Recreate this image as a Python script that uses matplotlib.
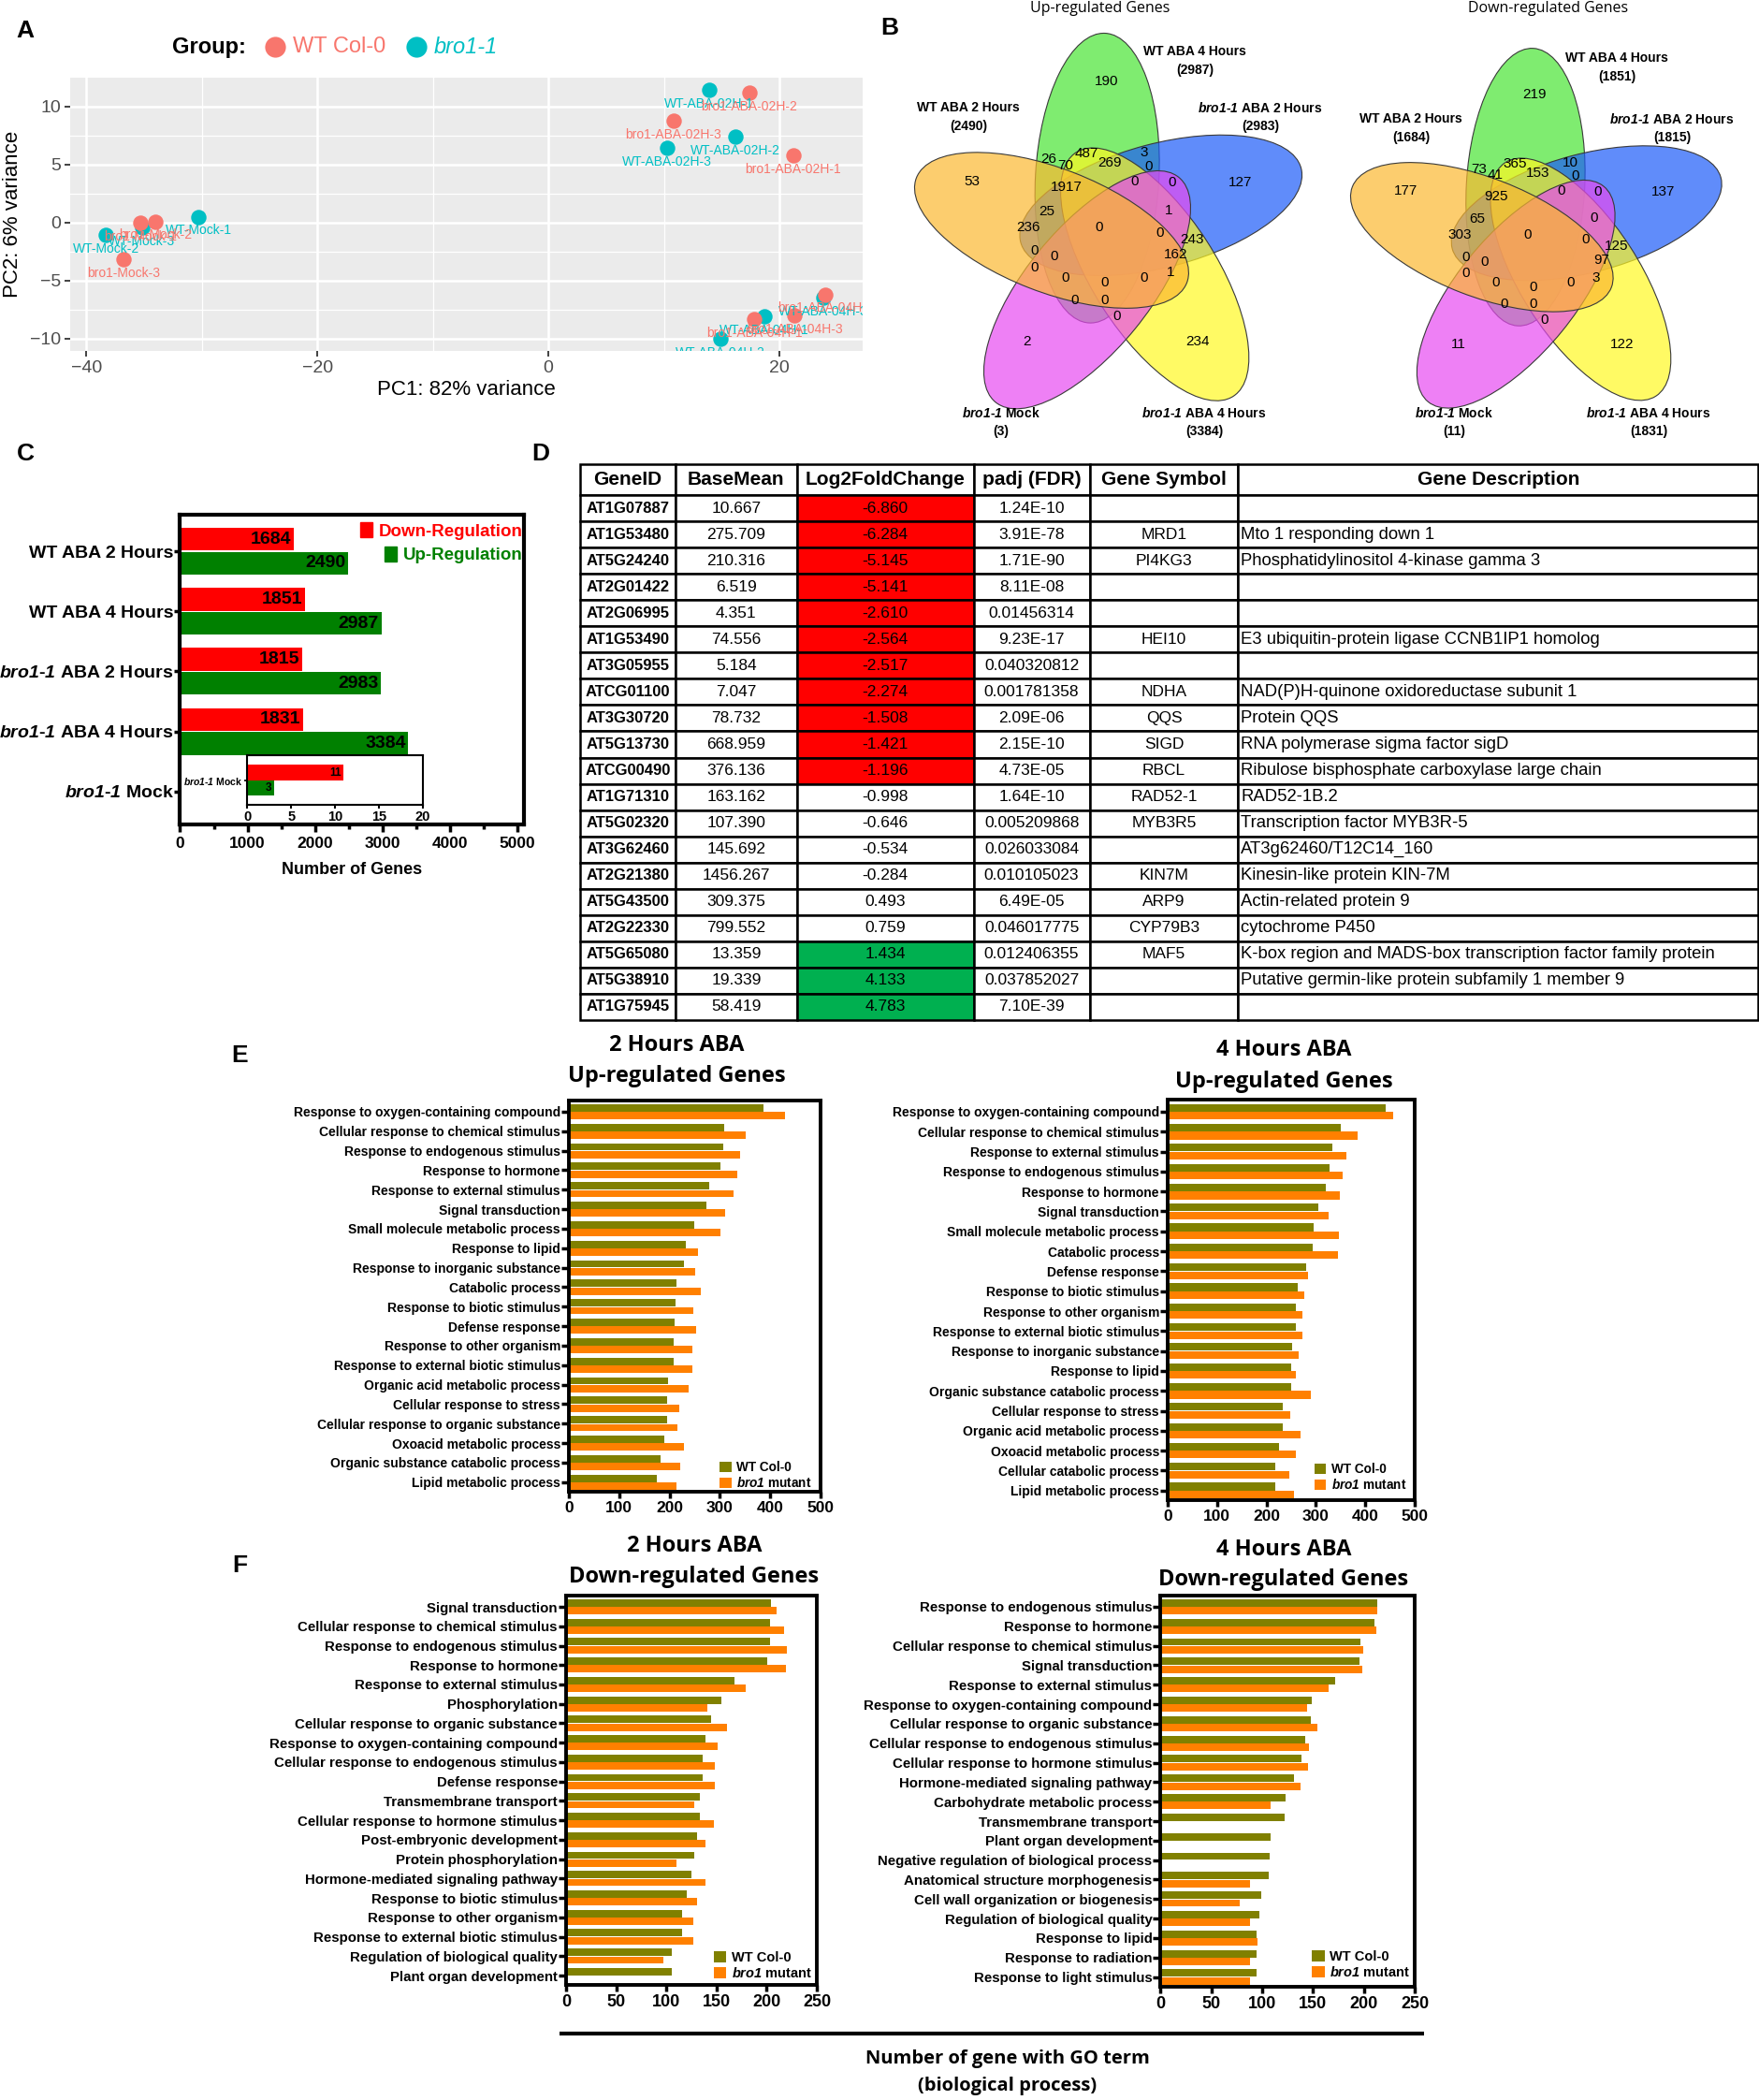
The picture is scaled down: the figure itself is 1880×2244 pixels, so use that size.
import matplotlib
matplotlib.use("Agg")
import matplotlib.pyplot as plt
import numpy as np
from matplotlib.patches import Ellipse, Patch
from matplotlib.colors import to_rgba

W, H = 1881, 2244
plt.rcParams["font.family"] = ["Liberation Sans", "DejaVu Sans"]
plt.rcParams["mathtext.fontset"] = "custom"
plt.rcParams["mathtext.it"] = "Liberation Sans:italic:bold"
plt.rcParams["mathtext.rm"] = "Liberation Sans:italic:bold"
TITLE_FONT = ["Open Sans", "Liberation Sans", "DejaVu Sans"]
BRO = r"$\mathit{bro1}$-$\mathit{1}$"

# ---------------- A: PCA ----------------
pca_names = ["WT-Mock-1", "WT-Mock-2", "WT-Mock-3",
             "WT-ABA-02H-1", "WT-ABA-02H-2", "WT-ABA-02H-3",
             "WT-ABA-04H-1", "WT-ABA-04H-2", "WT-ABA-04H-3",
             "bro1-Mock-1", "bro1-Mock-2", "bro1-Mock-3",
             "bro1-ABA-02H-1", "bro1-ABA-02H-2", "bro1-ABA-02H-3",
             "bro1-ABA-04H-1", "bro1-ABA-04H-2", "bro1-ABA-04H-3"]
pca_pc1 = [-30.3, -38.3, -35.2, 13.9, 16.2, 10.3, 18.7, 14.9, 23.8,
           -35.3, -34.0, -36.8, 21.2, 17.4, 10.8, 17.8, 24.0, 21.3]
pca_pc2 = [0.5, -1.1, -0.4, 11.4, 7.4, 6.4, -8.1, -10.0, -6.5,
           0.0, 0.1, -3.2, 5.8, 11.2, 8.8, -8.3, -6.2, -8.0]
pca_group = ["bro1-1"] * 9 + ["WT Col-0"] * 9
group_colors = {"WT Col-0": "#F8766D", "bro1-1": "#00BFC4"}

# ---------------- B: Venn ----------------
venn_up_totals = [2987, 2983, 3384, 3, 2490]
venn_down_totals = [1851, 1815, 1831, 11, 1684]
venn_set_names = ["WT ABA 4 Hours", BRO + " ABA 2 Hours", BRO + " ABA 4 Hours",
                  BRO + " Mock", "WT ABA 2 Hours"]
venn_up_counts = [190, 53, 127, 2, 234, 26, 70, 487, 269, 3, 0, 0, 0, 1917, 25, 1,
                  236, 0, 0, 243, 162, 0, 0, 0, 0, 0, 0, 1, 0, 0, 0]
venn_down_counts = [219, 177, 137, 11, 122, 73, 41, 365, 153, 10, 0, 0, 0, 925, 65, 0,
                    303, 0, 0, 125, 97, 0, 0, 0, 0, 0, 0, 3, 0, 0, 0]

# ---------------- C: DEG counts ----------------
c_groups = ["WT ABA 2 Hours", "WT ABA 4 Hours", BRO + " ABA 2 Hours",
            BRO + " ABA 4 Hours", BRO + " Mock"]
c_down = [1684, 1851, 1815, 1831, 11]
c_up = [2490, 2987, 2983, 3384, 3]

# ---------------- D: table ----------------
d_headers = ["GeneID", "BaseMean", "Log2FoldChange", "padj (FDR)", "Gene Symbol", "Gene Description"]
d_gene = ["AT1G07887", "AT1G53480", "AT5G24240", "AT2G01422", "AT2G06995", "AT1G53490",
          "AT3G05955", "ATCG01100", "AT3G30720", "AT5G13730", "ATCG00490", "AT1G71310",
          "AT5G02320", "AT3G62460", "AT2G21380", "AT5G43500", "AT2G22330", "AT5G65080",
          "AT5G38910", "AT1G75945"]
d_basemean = [10.667, 275.709, 210.316, 6.519, 4.351, 74.556, 5.184, 7.047, 78.732, 668.959,
              376.136, 163.162, 107.390, 145.692, 1456.267, 309.375, 799.552, 13.359, 19.339, 58.419]
d_lfc = [-6.860, -6.284, -5.145, -5.141, -2.610, -2.564, -2.517, -2.274, -1.508, -1.421,
         -1.196, -0.998, -0.646, -0.534, -0.284, 0.493, 0.759, 1.434, 4.133, 4.783]
d_padj = ["1.24E-10", "3.91E-78", "1.71E-90", "8.11E-08", "0.01456314", "9.23E-17",
          "0.040320812", "0.001781358", "2.09E-06", "2.15E-10", "4.73E-05", "1.64E-10",
          "0.005209868", "0.026033084", "0.010105023", "6.49E-05", "0.046017775",
          "0.012406355", "0.037852027", "7.10E-39"]
d_symbol = ["", "MRD1", "PI4KG3", "", "", "HEI10", "", "NDHA", "QQS", "SIGD", "RBCL",
            "RAD52-1", "MYB3R5", "", "KIN7M", "ARP9", "CYP79B3", "MAF5", "", ""]
d_desc = ["", "Mto 1 responding down 1", "Phosphatidylinositol 4-kinase gamma 3", "", "",
          "E3 ubiquitin-protein ligase CCNB1IP1 homolog", "",
          "NAD(P)H-quinone oxidoreductase subunit 1", "Protein QQS",
          "RNA polymerase sigma factor sigD", "Ribulose bisphosphate carboxylase large chain",
          "RAD52-1B.2", "Transcription factor MYB3R-5", "AT3g62460/T12C14_160",
          "Kinesin-like protein KIN-7M", "Actin-related protein 9", "cytochrome P450",
          "K-box region and MADS-box transcription factor family protein",
          "Putative germin-like protein subfamily 1 member 9", ""]

# ---------------- E / F: GO terms ----------------
e2_terms = ["Response to oxygen-containing compound", "Cellular response to chemical stimulus",
            "Response to endogenous stimulus", "Response to hormone", "Response to external stimulus",
            "Signal transduction", "Small molecule metabolic process", "Response to lipid",
            "Response to inorganic substance", "Catabolic process", "Response to biotic stimulus",
            "Defense response", "Response to other organism", "Response to external biotic stimulus",
            "Organic acid metabolic process", "Cellular response to stress",
            "Cellular response to organic substance", "Oxoacid metabolic process",
            "Organic substance catabolic process", "Lipid metabolic process"]
e2_wt = [386, 309, 306, 301, 279, 274, 249, 232, 229, 214, 212, 210, 208, 208, 197, 195, 195, 189, 182, 175]
e2_mut = [429, 352, 341, 334, 327, 311, 301, 256, 251, 262, 248, 252, 245, 245, 237, 219, 216, 228, 221, 214]

e4_terms = ["Response to oxygen-containing compound", "Cellular response to chemical stimulus",
            "Response to external stimulus", "Response to endogenous stimulus", "Response to hormone",
            "Signal transduction", "Small molecule metabolic process", "Catabolic process",
            "Defense response", "Response to biotic stimulus", "Response to other organism",
            "Response to external biotic stimulus", "Response to inorganic substance",
            "Response to lipid", "Organic substance catabolic process", "Cellular response to stress",
            "Organic acid metabolic process", "Oxoacid metabolic process",
            "Cellular catabolic process", "Lipid metabolic process"]
e4_wt = [441, 350, 334, 328, 321, 304, 295, 294, 280, 264, 260, 260, 252, 250, 250, 233, 233, 226, 217, 217]
e4_mut = [457, 385, 362, 355, 349, 325, 346, 344, 284, 276, 272, 272, 266, 260, 289, 249, 269, 260, 247, 255]

f2_terms = ["Signal transduction", "Cellular response to chemical stimulus",
            "Response to endogenous stimulus", "Response to hormone", "Response to external stimulus",
            "Phosphorylation", "Cellular response to organic substance",
            "Response to oxygen-containing compound", "Cellular response to endogenous stimulus",
            "Defense response", "Transmembrane transport", "Cellular response to hormone stimulus",
            "Post-embryonic development", "Protein phosphorylation",
            "Hormone-mediated signaling pathway", "Response to biotic stimulus",
            "Response to other organism", "Response to external biotic stimulus",
            "Regulation of biological quality", "Plant organ development"]
f2_wt = [204, 203, 203, 201, 168, 155, 145, 139, 136, 136, 133, 133, 131, 128, 125, 120, 116, 116, 105, 105]
f2_mut = [210, 217, 220, 219, 179, 141, 160, 151, 148, 148, 128, 147, 139, 110, 139, 131, 127, 127, 97, 0]

f4_terms = ["Response to endogenous stimulus", "Response to hormone",
            "Cellular response to chemical stimulus", "Signal transduction",
            "Response to external stimulus", "Response to oxygen-containing compound",
            "Cellular response to organic substance", "Cellular response to endogenous stimulus",
            "Cellular response to hormone stimulus", "Hormone-mediated signaling pathway",
            "Carbohydrate metabolic process", "Transmembrane transport", "Plant organ development",
            "Negative regulation of biological process", "Anatomical structure morphogenesis",
            "Cell wall organization or biogenesis", "Regulation of biological quality",
            "Response to lipid", "Response to radiation", "Response to light stimulus"]
f4_wt = [213, 210, 197, 196, 172, 149, 148, 142, 139, 131, 123, 122, 108, 107, 106, 99, 97, 94, 94, 94]
f4_mut = [213, 212, 199, 198, 165, 144, 154, 146, 145, 138, 108, 0, 0, 0, 88, 78, 88, 95, 88, 88]


def px(l, t, r, b):
    return [l / W, 1 - b / H, (r - l) / W, (b - t) / H]


fig = plt.figure(figsize=(W / 100, H / 100), dpi=100)

# ---------- A ----------
axA = fig.add_axes(px(75, 83, 922, 375))
axA.set_facecolor("#EBEBEB")
for g in ["bro1-1", "WT Col-0"]:
    xs = [x for x, gg in zip(pca_pc1, pca_group) if gg == g]
    ys = [y for y, gg in zip(pca_pc2, pca_group) if gg == g]
    axA.scatter(xs, ys, s=140, color=group_colors[g], zorder=3, linewidths=0)
for name, x, y, g in zip(pca_names, pca_pc1, pca_pc2, pca_group):
    axA.text(x, y - 1.2, name, color=group_colors[g], fontsize=10, ha="center", va="center",
             zorder=4, clip_on=True)
axA.set_xlim(-41.4, 27.2)
axA.set_ylim(-11.07, 12.48)
axA.set_xticks([-40, -20, 0, 20])
axA.set_xticks([-30, -10, 10], minor=True)
axA.set_yticks([-10, -5, 0, 5, 10])
axA.set_yticks([-7.5, -2.5, 2.5, 7.5], minor=True)
axA.grid(which="major", color="white", lw=1.8)
axA.grid(which="minor", color="white", lw=0.9)
axA.set_axisbelow(True)
for s in axA.spines.values():
    s.set_visible(False)
axA.tick_params(which="major", length=4, width=1.3, color="#333333", labelsize=14,
                labelcolor="#4D4D4D", pad=3)
axA.tick_params(which="minor", length=0)
axA.set_xlabel("PC1: 82% variance", fontsize=16, labelpad=3)
axA.set_ylabel("PC2: 6% variance", fontsize=16, labelpad=6)

# ---------- C ----------
axC = fig.add_axes(px(192.5, 550, 560, 881))
yc = np.arange(len(c_groups))
axC.barh(yc - 0.2, c_down, height=0.38, color="#FF0000")
axC.barh(yc + 0.2, c_up, height=0.38, color="#008000")
for i in range(4):
    axC.annotate(str(c_down[i]), (c_down[i], yc[i] - 0.2), xytext=(-2, 0),
                 textcoords="offset points", ha="right", va="center", fontsize=14, fontweight="bold")
    axC.annotate(str(c_up[i]), (c_up[i], yc[i] + 0.2), xytext=(-2, 0),
                 textcoords="offset points", ha="right", va="center", fontsize=14, fontweight="bold")
axC.set_xlim(0, 5100)
axC.set_ylim(4.55, -0.61)
axC.set_xticks(np.arange(0, 5001, 1000))
axC.set_xticks(np.arange(500, 5001, 1000), minor=True)
axC.set_yticks(yc)
axC.set_yticklabels(c_groups, fontsize=14, fontweight="bold")
for lb in axC.get_xticklabels():
    lb.set_fontweight("bold")
axC.tick_params(axis="x", which="major", length=6, width=2.5, labelsize=12.5, pad=3)
axC.tick_params(axis="x", which="minor", length=3.5, width=2.5)
axC.tick_params(axis="y", length=4, width=2.5, pad=1)
for s in axC.spines.values():
    s.set_linewidth(3)
axC.set_xlabel("Number of Genes", fontsize=13, fontweight="bold", labelpad=9)
leg1 = axC.legend(handles=[Patch(color="#FF0000", label="Down-Regulation")], loc="upper right",
                  bbox_to_anchor=(0.995, 0.975), frameon=False, borderpad=0, borderaxespad=0,
                  prop=dict(weight="bold", size=13.5), labelcolor="#FF0000",
                  handlelength=0.7, handleheight=0.9, handletextpad=0.35)
axC.add_artist(leg1)
axC.legend(handles=[Patch(color="#008000", label="Up-Regulation")], loc="upper right",
           bbox_to_anchor=(0.995, 0.897), frameon=False, borderpad=0, borderaxespad=0,
           prop=dict(weight="bold", size=13.5), labelcolor="#008000",
           handlelength=0.7, handleheight=0.9, handletextpad=0.35)

# inset for the mock sample
axI = fig.add_axes(px(264.5, 807, 451.6, 860))
axI.barh([-0.5], c_down[4:], height=0.96, color="#FF0000")
axI.barh([0.5], c_up[4:], height=0.96, color="#008000")
axI.annotate(str(c_down[4]), (c_down[4], -0.5), xytext=(-1.5, 0), textcoords="offset points",
             ha="right", va="center", fontsize=8.5, fontweight="bold")
axI.annotate(str(c_up[4]), (c_up[4], 0.5), xytext=(-1.5, 0), textcoords="offset points",
             ha="right", va="center", fontsize=8.5, fontweight="bold")
axI.set_xlim(0, 20)
axI.set_ylim(1.55, -1.6)
axI.set_xticks([0, 5, 10, 15, 20])
axI.set_yticks([0])
axI.set_yticklabels([c_groups[4]], fontsize=7.5, fontweight="bold")
for lb in axI.get_xticklabels():
    lb.set_fontweight("bold")
axI.tick_params(axis="x", length=3, width=1.5, labelsize=10.5, pad=1)
axI.tick_params(axis="y", length=2.5, width=1.2, pad=1)
for s in axI.spines.values():
    s.set_linewidth(1.5)

# ---------- D ----------
axD = fig.add_axes(px(620, 496, 1879, 1090))
axD.axis("off")
rows = [[g, f"{b:.3f}", f"{l:.3f}", p, s, d]
        for g, b, l, p, s, d in zip(d_gene, d_basemean, d_lfc, d_padj, d_symbol, d_desc)]
colors = [["white", "white",
           "#FF0000" if l <= -1 else ("#00B050" if l >= 1 else "white"),
           "white", "white", "white"] for l in d_lfc]
col_px = np.array([102, 130, 189, 124, 159, 556], dtype=float)
tbl = axD.table(cellText=rows, colLabels=d_headers, cellColours=colors,
                colWidths=list(col_px / col_px.sum()), cellLoc="center", bbox=[0, 0, 1, 1])
tbl.auto_set_font_size(False)
for (r, c), cell in tbl.get_celld().items():
    cell.set_linewidth(1.8)
    cell.set_edgecolor("black")
    cell.set_height(33 if r == 0 else 28)
    if r == 0:
        cell.set_text_props(fontsize=15, fontweight="bold")
    elif c == 0:
        cell.set_text_props(fontsize=12, fontweight="bold")
    elif c == 5:
        cell.PAD = 0.005
        cell.set_text_props(fontsize=13.3, ha="left")
    else:
        cell.set_text_props(fontsize=12.5)


# ---------- E / F ----------
def go_panel(rect, terms, wt, mut, xmax, xstep, lab_fs, tick_fs, leg_fs, anchor):
    ax = fig.add_axes(px(*rect))
    y = np.arange(len(terms))
    ax.barh(y - 0.2, wt, height=0.38, color="#808000", label="WT Col-0")
    ax.barh(y + 0.2, mut, height=0.38, color="#FF8000", label=r"$\mathit{bro1}$ mutant")
    ax.set_xlim(0, xmax)
    ax.set_ylim(19.5, -0.6)
    ax.set_yticks(y)
    ax.set_yticklabels(terms, fontsize=lab_fs, fontweight="bold")
    ax.set_xticks(np.arange(0, xmax + 1, xstep))
    for lb in ax.get_xticklabels():
        lb.set_fontweight("bold")
    ax.tick_params(axis="y", length=5.5, width=2.5, pad=1)
    ax.tick_params(axis="x", length=5, width=2.5, pad=2, labelsize=tick_fs)
    for s in ax.spines.values():
        s.set_linewidth(2.8)
    ax.legend(loc="lower right", bbox_to_anchor=anchor, frameon=False, borderpad=0,
              borderaxespad=0, prop=dict(weight="bold", size=leg_fs), handlelength=0.9,
              handleheight=0.9, handletextpad=0.4, labelspacing=0.15)
    return ax


go_panel((608, 1175.5, 877, 1594.2), e2_terms, e2_wt, e2_mut, 500, 100, 10, 12.5, 9.8, (0.965, 0.005))
go_panel((1248, 1175.2, 1512, 1603.4), e4_terms, e4_wt, e4_mut, 500, 100, 10, 12.5, 9.8, (0.966, 0.022))
go_panel((605, 1704.6, 873, 2121.4), f2_terms, f2_wt, f2_mut, 250, 50, 10.8, 13, 10.5, (0.981, 0.013))
go_panel((1240.5, 1704.5, 1512, 2123), f4_terms, f4_wt, f4_mut, 250, 50, 10.8, 13, 10.5, (0.984, 0.019))

# ---------- free text / Venn canvas ----------
cv = fig.add_axes([0, 0, 1, 1])
cv.set_xlim(0, W)
cv.set_ylim(H, 0)
cv.axis("off")

for lab, (x, y) in zip("ABCDEF", [(27, 33), (951, 30), (27, 485), (578, 485), (256, 1128), (256, 1673)]):
    cv.text(x, y, lab, fontsize=19, fontweight="bold", ha="center", va="center")

# PCA legend
cv.text(184, 50, "Group:", fontsize=17, fontweight="bold", ha="left", va="center")
cv.plot([293.6], [50], "o", ms=16, color=group_colors["WT Col-0"], mec="none")
cv.text(313, 50, "WT Col-0", fontsize=17, color=group_colors["WT Col-0"], ha="left", va="center")
cv.plot([445], [50], "o", ms=16, color=group_colors["bro1-1"], mec="none")
cv.text(464, 50, "bro1-1", fontsize=17, fontstyle="italic", color=group_colors["bro1-1"],
        ha="left", va="center")

# Venn layout (pixel offsets of region labels from the centre label)
venn_region_xy = [(8, -156), (-136, -49), (151, -48), (-77, 122), (105, 122), (-54, -73),
                  (-36, -66), (-14, -79), (11, -69), (48, -80), (53, -65), (38, -49), (78, -48),
                  (-35, -43), (-56, -17), (74, -18), (-76, 0), (0, 0), (65, 6), (99, 13),
                  (82, 29), (-69, 25), (-48, 31), (-69, 43), (-36, 54), (6, 59), (48, 54),
                  (76, 48), (-26, 78), (6, 78), (19, 95)]
venn_colors = ["#49E433", "#1C5BF8", "#FFF822", "#E74AF1", "#FCB830"]
venn_up_set_xy = [(1277, 55), (1347, 115), (1287, 441), (1070, 441), (1035, 115)]
venn_down_set_xy = [(1728, 62), (1787, 127), (1762, 441), (1554, 441), (1508, 127)]


def draw_venn(origin, scale, counts, totals, set_xy, title, title_x):
    P = (origin[0] + 11.7 * scale, origin[1] + 8.4 * scale)
    for i, col in enumerate(venn_colors):
        ax_ang = 86.8 - 72 * i
        c_ang = np.deg2rad(ax_ang + 16.1)
        cx = P[0] + scale * 63 * np.cos(c_ang)
        cy = P[1] - scale * 63 * np.sin(c_ang)
        cv.add_patch(Ellipse((cx, cy), 2 * scale * 155, 2 * scale * 66, angle=-ax_ang,
                             facecolor=to_rgba(col, 0.7), edgecolor="#3A3A3A", lw=0.8))
    for n, (dx, dy) in zip(counts, venn_region_xy):
        cv.text(origin[0] + scale * dx, origin[1] + scale * dy, str(n), fontsize=11,
                ha="center", va="center")
    for name, tot, (x, y) in zip(venn_set_names, totals, set_xy):
        cv.text(x, y, name, fontsize=10, fontweight="bold", ha="center", va="center")
        cv.text(x, y + 20, f"({tot})", fontsize=10, fontweight="bold", ha="center", va="center")
    cv.text(title_x, 9, title, fontsize=11.5, family=TITLE_FONT, ha="center", va="center")


draw_venn((1175, 243.3), 1.0, venn_up_counts, venn_up_totals, venn_up_set_xy,
          "Up-regulated Genes", 1176)
draw_venn((1632.7, 250.7), 0.958, venn_down_counts, venn_down_totals, venn_down_set_xy,
          "Down-regulated Genes", 1655)

# GO panel titles
for (x, y1, y2, l1, l2) in [(723, 1117, 1150, "2 Hours ABA", "Up-regulated Genes"),
                            (1372, 1122, 1156, "4 Hours ABA", "Up-regulated Genes"),
                            (742, 1652, 1685, "2 Hours ABA", "Down-regulated Genes"),
                            (1372, 1656, 1688, "4 Hours ABA", "Down-regulated Genes")]:
    cv.text(x, y1, l1, fontsize=17, fontweight="bold", family=TITLE_FONT, ha="center", va="center")
    cv.text(x, y2, l2, fontsize=17, fontweight="bold", family=TITLE_FONT, ha="center", va="center")

cv.plot([598, 1522], [2173, 2173], color="black", lw=3, solid_capstyle="butt")
cv.text(1077, 2200, "Number of gene with GO term", fontsize=14.5, fontweight="bold",
        family=TITLE_FONT, ha="center", va="center")
cv.text(1077, 2229, "(biological process)", fontsize=14.5, fontweight="bold",
        family=TITLE_FONT, ha="center", va="center")

fig.savefig("out.png", dpi=100)
